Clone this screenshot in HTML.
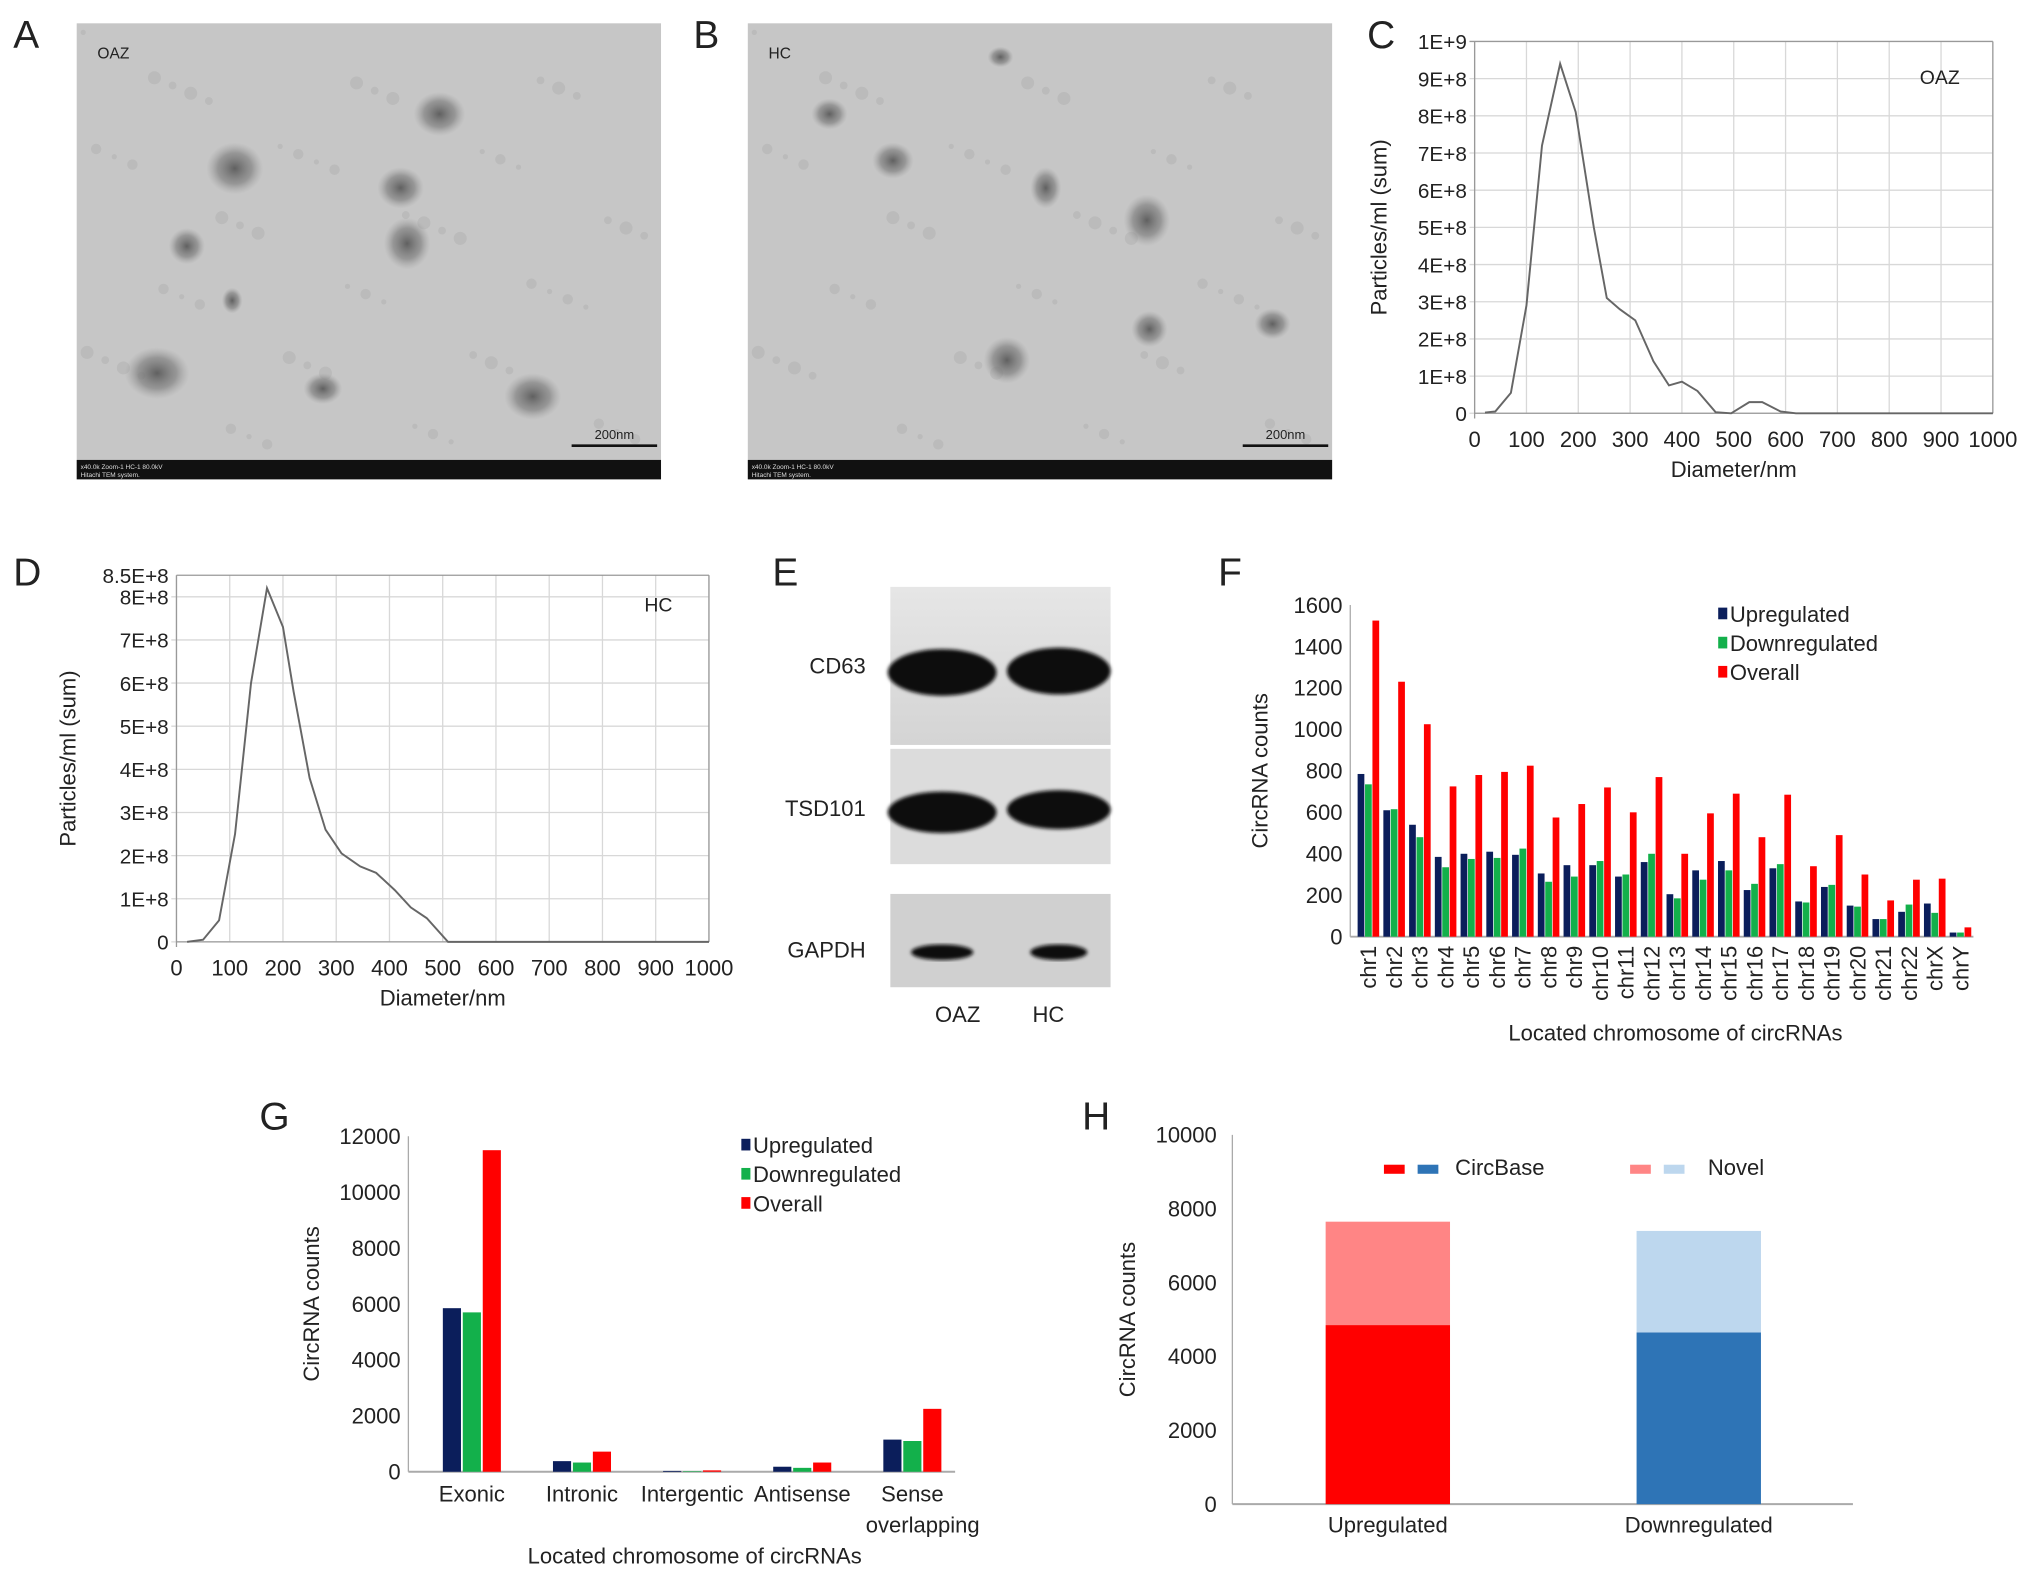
<!DOCTYPE html>
<html><head><meta charset="utf-8"><style>
html,body{margin:0;padding:0;background:#fff;}
svg{display:block;font-family:"Liberation Sans",Arial,sans-serif;}
</style></head><body>
<svg id="fig" width="2032" height="1578" viewBox="0 0 1568 1218" xmlns="http://www.w3.org/2000/svg">
<defs>
<radialGradient id="blob"><stop offset="0" stop-color="#555" stop-opacity="0.9"/><stop offset="0.6" stop-color="#777" stop-opacity="0.6"/><stop offset="1" stop-color="#999" stop-opacity="0"/></radialGradient>
<linearGradient id="bandbg" x1="0" y1="0" x2="0" y2="1"><stop offset="0" stop-color="#e6e6e6"/><stop offset="1" stop-color="#d4d4d4"/></linearGradient>
<filter id="soft"><feGaussianBlur stdDeviation="1.5"/></filter>
</defs>
<g id="root"></g>
</svg>
<script>
// ---- Panel C data (OAZ NTA) ----
const cDiam = [20,40,70,100,130,165,195,230,255,280,310,345,375,400,430,465,495,530,555,590,620,1000];
const cConc = [0.02,0.05,0.55,2.9,7.2,9.4,8.1,5.0,3.1,2.8,2.5,1.4,0.75,0.85,0.6,0.03,0,0.3,0.3,0.05,0,0];
// ---- Panel D data (HC NTA) ----
const dDiam = [20,50,80,110,140,170,200,220,250,280,310,345,375,410,440,470,510,1000];
const dConc = [0,0.05,0.5,2.5,6.0,8.2,7.3,5.8,3.8,2.6,2.05,1.75,1.6,1.2,0.8,0.55,0,0];
// ---- Panel F data ----
const fCats = ["chr1","chr2","chr3","chr4","chr5","chr6","chr7","chr8","chr9","chr10","chr11","chr12","chr13","chr14","chr15","chr16","chr17","chr18","chr19","chr20","chr21","chr22","chrX","chrY"];
const fUp = [785,610,540,385,400,410,395,305,345,345,290,360,205,320,365,225,330,170,240,150,85,120,160,20];
const fDown = [735,615,480,335,375,380,425,265,290,365,300,400,185,275,320,255,350,165,250,145,85,155,115,20];
const fAll = [1525,1230,1025,725,780,795,825,575,640,720,600,770,400,595,690,480,685,340,490,300,175,275,280,45];
const fTicks = [0,200,400,600,800,1000,1200,1400,1600];
// ---- Panel G data ----
const gCats = ["Exonic","Intronic","Intergentic","Antisense","Sense overlapping"];
const gUp = [5850,380,30,180,1150];
const gDown = [5700,330,20,140,1100];
const gAll = [11500,720,50,330,2250];
const gTicks = [0,2000,4000,6000,8000,10000,12000];
// ---- Panel H data ----
const hCats = ["Upregulated","Downregulated"];
const hCircBase = [4850,4650];
const hNovel = [2800,2750];
const hTicks = [0,2000,4000,6000,8000,10000];

const NS="http://www.w3.org/2000/svg";
const root=document.getElementById('root');
function el(tag,attrs,parent,text){const e=document.createElementNS(NS,tag);for(const k in attrs)e.setAttribute(k,attrs[k]);if(text!==undefined)e.textContent=text;(parent||root).appendChild(e);return e;}
function txt(x,y,s,size,anchor,parent,extra){const t=el('text',Object.assign({x:x,y:y,'font-size':size,'text-anchor':anchor||'start',fill:'#222'},extra||{}),parent,s);return t;}

[["A",10,37],["B",535,37],["C",1055,37],["D",10,452],["E",596,452],["F",940,452],["G",200,872],["H",835,872]].forEach(p=>{
  const t=txt(p[1],p[2],p[0],30,'start');
  
  
});

function tem(x0,label,blobs,name){
  const g=el('g',{});
  
  
  el('rect',{x:x0,y:18,width:451,height:352,fill:'#c6c6c6'},g);
  for(let i=0;i<60;i++){const rx=x0+((i*97)%440)+5,ry=25+((i*53)%320);el('circle',{cx:rx,cy:ry,r:2+(i%4),fill:'#b0b0b0',opacity:0.5},g);}
  blobs.forEach(b=>el('ellipse',{cx:x0+b[0],cy:b[1],rx:b[2],ry:b[3],fill:'url(#blob)'},g));
  el('rect',{x:x0,y:355,width:451,height:15,fill:'#111'},g);
  el('line',{x1:x0+382,y1:344,x2:x0+448,y2:344,stroke:'#111','stroke-width':2},g);
  txt(x0+415,339,'200nm',10,'middle',g);
  txt(x0+16,45,label,12,'start',g);
  txt(x0+3,362,'x40.0k Zoom-1 HC-1 80.0kV',5,'start',g,{fill:'#ddd'});
  txt(x0+3,368,'Hitachi TEM system.',5,'start',g,{fill:'#ddd'});
}
tem(59,'OAZ',[[122,130,22,20],[280,88,20,17],[250,145,18,16],[255,188,18,20],[85,190,14,14],[62,288,25,20],[190,300,15,12],[352,306,22,18],[120,232,8,10]],'tem-image-oaz');
tem(577,'HC',[[112,124,16,14],[63,88,14,12],[230,145,12,16],[308,170,18,20],[310,254,14,14],[200,278,18,18],[405,250,14,12],[195,44,10,8]],'tem-image-hc');

function nta(opt){
  const g=el('g',{});
  
  
  const sx=v=>opt.x0+(v/1000)*(opt.x1-opt.x0);
  const sy=v=>opt.y0-(v/opt.ymax)*(opt.y0-opt.y1);
  for(let v=0;v<=1000;v+=100){el('line',{x1:sx(v),y1:opt.y1,x2:sx(v),y2:opt.y0,stroke:'#d8d8d8','stroke-width':1},g);
    txt(sx(v),opt.y0+26,String(v),17,'middle',g);}
  opt.yt.forEach(v=>{el('line',{x1:opt.x0-4,y1:sy(v),x2:opt.x1,y2:sy(v),stroke:v===opt.ymax?'#999':'#d8d8d8','stroke-width':1},g);
    txt(opt.x0-6,sy(v)+6,v===0?'0':(v===10?'1E+9':(v+'E+8')),16,'end',g);});
  el('line',{x1:opt.x0,y1:opt.y1,x2:opt.x0,y2:opt.y0+4,stroke:'#999'},g);
  el('line',{x1:opt.x1,y1:opt.y1,x2:opt.x1,y2:opt.y0,stroke:'#999'},g);
  el('line',{x1:opt.x0,y1:opt.y0,x2:opt.x1,y2:opt.y0,stroke:'#999'},g);
  const pts=opt.xs.map((x,i)=>sx(x)+','+sy(opt.ys[i])).join(' ');
  const pl=el('polyline',{points:pts,fill:'none',stroke:'#666','stroke-width':1.5},g);
  
  
  txt((opt.x0+opt.x1)/2,opt.y0+49,'Diameter/nm',17,'middle',g);
  const yt=txt(0,0,'Particles/ml (sum)',17,'middle',g,{transform:`translate(${opt.ytx},${(opt.y0+opt.y1)/2}) rotate(-90)`});
  
  
  txt(opt.lx,opt.ly,opt.label,15,'middle',g);
}
nta({name:'chart-c-oaz',x0:1138,x1:1538,y0:319,y1:32,ymax:10,yt:[0,1,2,3,4,5,6,7,8,9,10],xs:cDiam,ys:cConc,ytx:1070,label:'OAZ',lx:1497,ly:65});
nta({name:'chart-d-hc',x0:136,x1:547,y0:727,y1:444,ymax:8.5,yt:[0,1,2,3,4,5,6,7,8],xs:dDiam,ys:dConc,ytx:58,label:'HC',lx:508,ly:472});
(function(){const t=txt(130,450,'8.5E+8',16,'end');
 el('line',{x1:136,y1:444,x2:547,y2:444,stroke:'#999'});})();

(function(){
  const g=el('g',{});
  
  
  el('rect',{x:687,y:453,width:170,height:122,fill:'url(#bandbg)'},g);
  el('rect',{x:687,y:578,width:170,height:89,fill:'#dcdcdc'},g);
  el('rect',{x:687,y:690,width:170,height:72,fill:'#d0d0d0'},g);
  [[727,519,42,18],[817,518,40,18],[727,627,42,16],[817,625,40,15],[727,735,24,6],[817,735,22,6]].forEach(b=>el('ellipse',{cx:b[0],cy:b[1],rx:b[2],ry:b[3],fill:'#0e0e0e',filter:'url(#soft)'},g));
  txt(668,520,'CD63',17,'end',g);txt(668,630,'TSD101',17,'end',g);txt(668,739,'GAPDH',17,'end',g);
  txt(739,789,'OAZ',17,'middle',g);txt(809,789,'HC',17,'middle',g);
})();

const COL=['#0b1e5b','#13b04b','#ff0000'];
function grouped(opt){
  const g=el('g',{});
  
  
  const sy=v=>opt.y0-(v/opt.ymax)*(opt.y0-opt.y1);
  opt.ticks.forEach(v=>txt(opt.x0-6,sy(v)+6,String(v),opt.fs,'end',g));
  el('line',{x1:opt.x0,y1:opt.y1,x2:opt.x0,y2:opt.y0,stroke:'#aaa'},g);
  el('line',{x1:opt.x0,y1:opt.y0,x2:opt.x1,y2:opt.y0,stroke:'#aaa','stroke-width':1.5},g);
  const series=[opt.a,opt.b,opt.c];
  opt.cats.forEach((c,i)=>{
    const cx=opt.cx0+i*opt.step;
    series.forEach((s,k)=>{
      const r=el('rect',{x:cx+(k-1)*opt.bw*1.1-opt.bw/2,y:sy(s[i]),width:opt.bw,height:opt.y0-sy(s[i]),fill:COL[k]},g);
      
      
    });
    opt.xlab(g,c,cx);
  });
  ['Upregulated','Downregulated','Overall'].forEach((n,k)=>{
    const ly=opt.ly+k*22.5;
    const r=el('rect',{x:opt.lx,y:ly-11,width:7,height:9,fill:COL[k]},g);
    
    
    txt(opt.lx+9,ly,n,17,'start',g);
  });
  txt(0,0,'CircRNA counts',17,'middle',g,{transform:`translate(${opt.ytx},${(opt.y0+opt.y1)/2}) rotate(-90)`});
  txt(opt.xtx,opt.xty,'Located chromosome of circRNAs',17,'middle',g);
}
grouped({name:'chart-f-chromosome',x0:1042,x1:1523,y0:723,y1:467,ymax:1600,ticks:fTicks,fs:17,cats:fCats,a:fUp,b:fDown,c:fAll,cx0:1056,step:19.87,bw:5.2,
  xlab:(g,c,cx)=>txt(0,0,c,17,'end',g,{transform:`translate(${cx+6},${730}) rotate(-90)`}),
  lx:1326,ly:480,ytx:978,xtx:1293,xty:803});
grouped({name:'chart-g-category',x0:315,x1:737,y0:1136,y1:877,ymax:12000,ticks:gTicks,fs:17,cats:gCats,a:gUp,b:gDown,c:gAll,cx0:364,step:85,bw:14,
  xlab:(g,c,cx)=>{if(c==='Sense overlapping'){txt(cx,1159,'Sense',17,'middle',g);txt(cx+8,1183,'overlapping',17,'middle',g);}else txt(cx,1159,c,17,'middle',g);},
  lx:572,ly:890,ytx:246,xtx:536,xty:1207});

(function(){
  const g=el('g',{});
  
  
  const x0=951,x1=1430,y0=1161,y1=876,ymax=10000;
  const sy=v=>y0-(v/ymax)*(y0-y1);
  hTicks.forEach(v=>txt(x0-12,sy(v)+6,String(v),17,'end',g));
  el('line',{x1:x0,y1:y1,x2:x0,y2:y0,stroke:'#aaa'},g);
  el('line',{x1:x0,y1:y0,x2:x1,y2:y0,stroke:'#aaa','stroke-width':1.5},g);
  const dark=['#ff0000','#2e74b6'],light=['#ff8585','#bdd7ee'];
  hCats.forEach((c,i)=>{
    const cx=1071+i*240;
    const r1=el('rect',{x:cx-48,y:sy(hCircBase[i]),width:96,height:y0-sy(hCircBase[i]),fill:dark[i]},g);
    
    
    const top=hCircBase[i]+hNovel[i];
    const r2=el('rect',{x:cx-48,y:sy(top),width:96,height:sy(hCircBase[i])-sy(top),fill:light[i]},g);
    
    
    txt(cx,1183,c,17,'middle',g);
  });
  el('rect',{x:1068,y:899,width:16,height:7,fill:'#ff0000'},g);
  el('rect',{x:1094,y:899,width:16,height:7,fill:'#2e74b6'},g);
  txt(1123,907,'CircBase',17,'start',g);
  el('rect',{x:1258,y:899,width:16,height:7,fill:'#ff8585'},g);
  el('rect',{x:1284,y:899,width:16,height:7,fill:'#bdd7ee'},g);
  txt(1318,907,'Novel',17,'start',g);
  txt(0,0,'CircRNA counts',17,'middle',g,{transform:`translate(876,${(y0+y1)/2}) rotate(-90)`});
})();
</script>
</body></html>
